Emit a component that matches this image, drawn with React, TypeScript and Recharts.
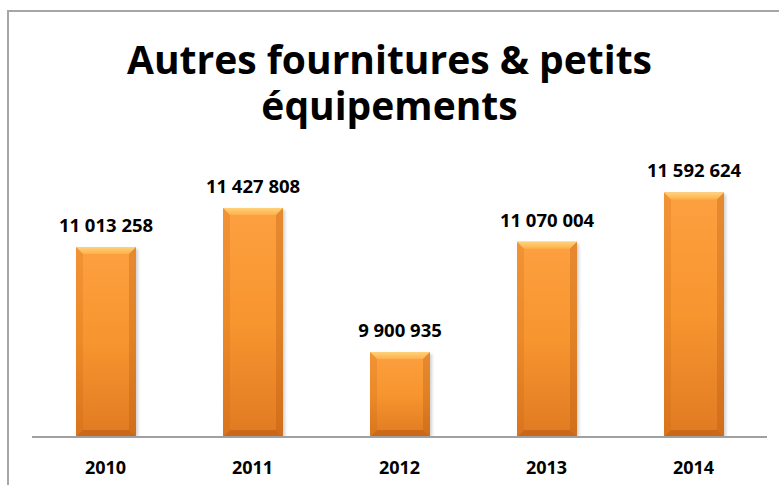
import React from 'react';
import { BarChart, Bar, XAxis, YAxis, LabelList } from 'recharts';

const years = ['2010', '2011', '2012', '2013', '2014'];
const amounts = [11013258, 11427808, 9900935, 11070004, 11592624];
const titleLines = ['Autres fournitures & petits', 'équipements'];

const data = years.map((y, i) => ({ year: y, value: amounts[i] }));

const FONT = "'Open Sans', sans-serif";

const fmt = (v: any) => String(v).replace(/\B(?=(\d{3})+(?!\d))/g, ' ');

const BevelBar = (props: any) => {
  const { x, y, width: w, height: h } = props;
  if (!h || h <= 0) return null;
  const b = 7;
  return (
    <g>
      <rect x={x + 2} y={y + 2} width={w} height={h - 2} fill="rgba(0,0,0,0.18)" filter="url(#blurShadow)" />
      <rect x={x} y={y} width={w} height={h} fill="url(#barBody)" />
      <polygon points={`${x},${y} ${x + w},${y} ${x + w - b},${y + b} ${x + b},${y + b}`} fill="url(#barTop)" />
      <polygon points={`${x},${y} ${x + b},${y + b} ${x + b},${y + h - b} ${x},${y + h}`} fill="rgba(190,90,10,0.18)" />
      <polygon points={`${x + w},${y} ${x + w - b},${y + b} ${x + w - b},${y + h - b} ${x + w},${y + h}`} fill="rgba(170,80,10,0.28)" />
      <polygon points={`${x},${y + h} ${x + b},${y + h - b} ${x + w - b},${y + h - b} ${x + w},${y + h}`} fill="rgba(160,70,10,0.35)" />
    </g>
  );
};

const Tick = (props: any) => {
  const { x, y, payload } = props;
  return (
    <text x={x} y={y + 37} textAnchor="middle" fill="#000" fontFamily={FONT} fontWeight="bold" fontSize={18}>
      {payload.value}
    </text>
  );
};

const ValueLabel = (props: any) => {
  const { x, y, width, value } = props;
  return (
    <text x={x + width / 2} y={y - 15} textAnchor="middle" fill="#000" fontFamily={FONT} fontWeight="bold" fontSize={18.5}>
      {fmt(value)}
    </text>
  );
};

export default function App() {
  return (
    <div style={{ position: 'relative', width: 779, height: 485, background: '#fff', overflow: 'hidden' }}>
      <style>{`body{margin:0;overflow:hidden;}`}</style>
      <div
        style={{
          position: 'absolute',
          left: 7,
          top: 10,
          width: 772,
          height: 475,
          boxSizing: 'border-box',
          borderTop: '2px solid #a6a6a6',
          borderLeft: '2px solid #a6a6a6',
        }}
      />
      <div
        style={{
          position: 'absolute',
          left: 0,
          top: 36,
          width: 779,
          textAlign: 'center',
          fontFamily: FONT,
          fontWeight: 'bold',
          fontSize: 39,
          lineHeight: '46px',
          color: '#000',
        }}
      >
        {titleLines.map((t) => (
          <div key={t}>{t}</div>
        ))}
      </div>
      <div style={{ position: 'absolute', left: 0, top: 0 }}>
        <BarChart width={779} height={485} data={data} margin={{ top: 154, right: 12, bottom: 0, left: 32 }} barSize={60}>
          <defs>
            <linearGradient id="barBody" x1="0" y1="0" x2="0" y2="1">
              <stop offset="0%" stopColor="#fda040" />
              <stop offset="50%" stopColor="#f7952f" />
              <stop offset="100%" stopColor="#e07a22" />
            </linearGradient>
            <linearGradient id="barTop" x1="0" y1="0" x2="0" y2="1">
              <stop offset="0%" stopColor="#ffd27a" />
              <stop offset="100%" stopColor="#fdb04a" />
            </linearGradient>
            <filter id="blurShadow" x="-20%" y="-20%" width="140%" height="140%">
              <feGaussianBlur stdDeviation="1.5" />
            </filter>
          </defs>
          <XAxis
            dataKey="year"
            height={48}
            tickSize={0}
            tickMargin={0}
            tickLine={false}
            axisLine={{ stroke: '#a0a0a0', strokeWidth: 2 }}
            tick={<Tick />}
            interval={0}
          />
          <YAxis hide domain={[9000000, 12000000]} allowDataOverflow />
          <Bar dataKey="value" shape={<BevelBar />} isAnimationActive={false}>
            <LabelList dataKey="value" content={<ValueLabel />} />
          </Bar>
        </BarChart>
      </div>
    </div>
  );
}
